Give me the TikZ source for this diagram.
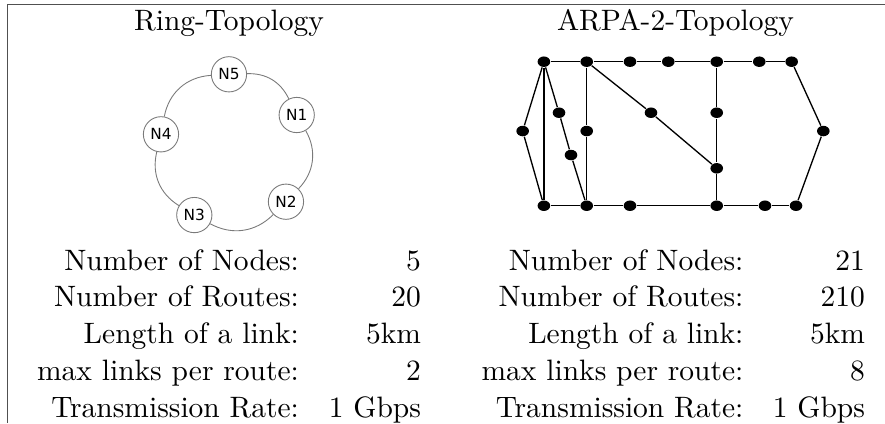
\documentclass[tikz,border=0pt]{standalone}
\usepackage{fontspec}
\usepackage{tikz}
\usetikzlibrary{shapes.geometric}
\newfontfamily\ringfont{DejaVu Sans}
\definecolor{rim}{HTML}{7A7A7A}
\definecolor{frm}{HTML}{505050}
\tikzset{
  ttl/.style ={anchor=base, inner sep=0pt},
  lbl/.style ={anchor=base east, inner sep=0pt},
  frame/.style={draw=frm, line width=0.5pt},
  rn/.style  ={draw=rim, circle, line width=0.3pt, minimum size=4.2mm, inner sep=0pt,
               font=\ringfont\fontsize{5.2}{6}\selectfont},
  rl/.style  ={draw=rim, line width=0.3pt},
  an/.style  ={ellipse, fill=black, minimum width=1.5mm, minimum height=1.25mm, inner sep=0pt},
  al/.style  ={line width=0.45pt},
}

\begin{document}
\begin{tikzpicture}[x=1mm,y=1mm]
\useasboundingbox (0,0) rectangle (105.44,-50.40);
% table frame
\coordinate (tl) at (0.89,-0.54);
\coordinate (tr) at (105.44,-0.54);
\coordinate (bl) at (0.89,-50.40);
\draw[frame] (tr) -- (tl) -- (bl);
\node[ttl] (ringttl) at (27.28,-3.69) {Ring-Topology};
\node[ttl] (arpattl) at (80.48,-3.69) {ARPA-2-Topology};
% ring
\node[rn] (n5) at (27.28,-8.85) {N5};
\node[rn] (n1) at (35.35,-13.70) {N1};
\node[rn] (n2) at (34.07,-24.03) {N2};
\node[rn] (n3) at (23.15,-25.62) {N3};
\node[rn] (n4) at (19.18,-16.00) {N4};
\foreach \a/\b/\bd in {n5/n1/33,n1/n2/37,n2/n3/37,n3/n4/36,n4/n5/38}
  \draw[rl] (\a) to[bend left=\bd] (\b);
% arpa-2
\foreach \x [count=\i] in {64.8,69.9,75.06,79.62,85.39,90.46,94.32}
  \node[an] (t\i) at (\x,-7.35) {};
\foreach \x [count=\i] in {64.8,69.9,75.06,85.39,91.14,94.84}
  \node[an] (b\i) at (\x,-24.51) {};
\node[an] (l)  at (62.27,-15.61) {};
\node[an] (r)  at (98.09,-15.61) {};
\node[an] (p1) at (66.60,-13.43) {};
\node[an] (p2) at (68.03,-18.47) {};
\node[an] (v1) at (69.90,-15.61) {};
\node[an] (d)  at (77.56,-13.43) {};
\node[an] (w1) at (85.39,-13.43) {};
\node[an] (w2) at (85.39,-20.05) {};
\foreach \a/\b in {t1/t2,t2/t3,t3/t4,t4/t5,t5/t6,t6/t7,b1/b2,b2/b3,b3/b4,b4/b5,b5/b6,
                   t1/l,l/b1,t1/b1,t1/p1,p1/p2,p2/b2,t2/v1,v1/b2,t2/d,d/w2,
                   t5/w1,w1/w2,w2/b4,t7/r,r/b6}
  \draw[al] (\a) -- (\b);
% figures
\foreach \txt/\va/\vb [count=\i] in {Number of Nodes:/5/21, Number of Routes:/20/210,
    Length of a link:/5km/5km, max links per route:/2/8, Transmission Rate:/1 Gbps/1 Gbps}{
  \pgfmathsetmacro\yy{-32.17-4.38*(\i-1)}
  \node[lbl] (la\i) at (35.68,\yy) {\txt};
  \node[lbl] (va\i) at (50.22,\yy) {\va};
  \node[lbl] (lb\i) at (88.64,\yy) {\txt};
  \node[lbl] (vb\i) at (103.12,\yy) {\vb};
}
\end{tikzpicture}
\end{document}
